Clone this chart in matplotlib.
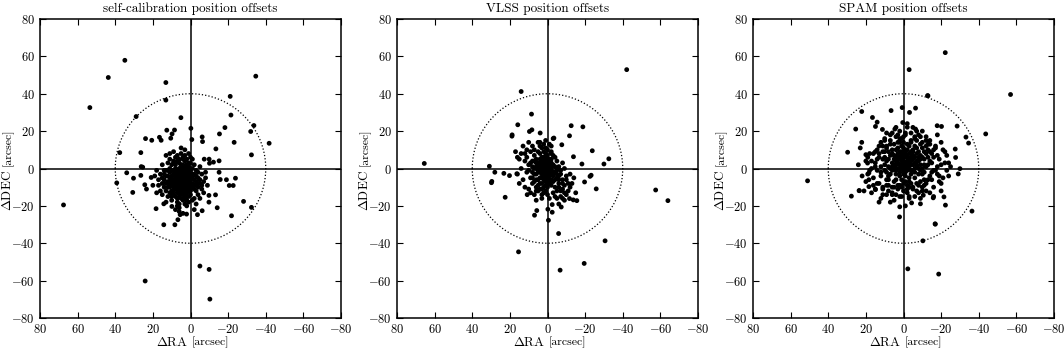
import numpy as np
import matplotlib
matplotlib.use('Agg')
import matplotlib.pyplot as plt
from matplotlib.transforms import offset_copy

plt.rcParams['font.family'] = 'serif'
plt.rcParams['font.serif'] = ['cmr10']
plt.rcParams['mathtext.fontset'] = 'cm'
plt.rcParams['axes.formatter.use_mathtext'] = True

# position offsets (RA, DEC) in arcsec

selfcal_offsets = [
    # outliers and sparse points
    (34.9, 57.9), (43.7, 48.7), (53.5, 32.6), (13.1, 46), (-34.7, 49.4), (-41.8, 13.5),
    (67.5, -19.5), (24.1, -60.2), (-5, -52.2), (-9.9, -54), (-10.3, -69.9),
    (13.1, 36.6), (-21.1, 38.6), (28.9, 27.8), (5.1, 27.2), (-21.5, 28.6), (-33.7, 23),
    (-32, 19.8), (-18.3, 21.9), (-15.4, 18.5), (-23.2, 14), (-32.4, 7.3), (-13.5, 10.5),
    (-6.2, 16.9), (-6.4, 14.4), (-0.2, 21.5), (-0.7, 15.5), (8.5, 20.6), (12.6, 20.5),
    (9.8, 18.5), (10.5, 16.2), (23.9, 16), (20.6, 15.1), (16.5, 16.7), (15.6, 15.1),
    (37.6, 8.5), (26.4, 8.5), (33.9, -2.3), (39.2, -7.7), (30.3, -5.2), (26.2, 1),
    (25.4, 0.7), (26.4, -3.7), (24.3, -8.7), (23.4, -11), (30.7, -12.8), (20.9, -4.8),
    (18.3, -21.5), (14.2, -18.9), (14.2, -30.1), (8.3, -30.1), (6.7, -27.4), (5.5, -24.7),
    (2.1, -24.4), (9.9, -20.3), (-3.7, -24.7), (-6.2, -22.6), (-9.8, -18), (-14.2, -21),
    (-13.3, -14.1), (-9.8, -14.4), (-15.2, -2), (-15.8, -5.9), (-19.1, -6), (-20.6, -9.1),
    (-22.7, -9.1), (-23.9, -5.2), (-21.8, -25.3), (-28.2, -17.6), (-32.4, -20.8),
    (-15.2, 4.1), (-12.2, 3.4), (-10.1, 2.8), (-7.3, 5), (-9.9, 5),
    # dense core
    (3, -3), (5, -2), (2, -5), (4, -6), (6, -4), (1, -2), (7, -1), (3, 0), (5, -8), (2, -9),
    (0, -4), (8, -5), (4, -1), (6, -7), (1, -6), (9, -3), (3, -10), (-1, -3), (5, 1), (7, -9),
    (2, 2), (10, -6), (-2, -6), (4, -12), (8, 0), (0, -8), (6, 3), (11, -2), (-3, -1), (3, -14),
    (9, -8), (1, 1), (12, -7), (-1, -10), (5, -11), (7, 4), (10, 2), (-4, -5), (2, -13), (13, -4),
    (6, -13), (-2, 2), (8, -11), (4, 5), (11, -10), (0, -12), (-5, -8), (14, -1), (3, 7), (9, -14),
    (1, -15), (-3, -12), (12, 3), (7, -16), (5, 8), (15, -8), (-6, -3), (10, -13), (2, -17), (-1, 5),
    (13, -12), (8, 6), (-4, -14), (16, -3), (4, -17), (11, 5), (-7, -7), (6, -19), (0, 3), (14, -10),
    (9, 9), (-2, -16), (17, -6), (3, 10), (12, -15), (-5, 1), (7, -20), (15, 2), (-8, -2), (1, 8),
    (10, -17), (5, 11), (-3, -19), (18, -1), (8, -22), (-6, -11), (13, 7), (2, -20), (16, -12), (-1, -17),
    (4, 2), (6, 0), (2, -1), (7, -3), (5, -5), (3, -7), (1, -7), (4, -9), (8, -7), (6, -10),
    (2, -11), (0, -1), (9, -1), (10, -9), (-1, 0), (12, -1), (11, -5), (3, 4), (-2, -9), (-3, -7),
    (14, -6), (9, 3), (-4, -10), (15, -14), (-5, -16), (1, -12), (7, 7), (0, 6), (-7, -13), (17, -9),
    (19, -4), (-8, -5), (11, 8), (6, -23), (4, -24), (-9, -9), (20, -9), (13, -18), (-2, -22), (18, -13),
    (4, -3), (2, -4), (5, -6), (3, -5), (6, -2), (1, -4), (7, -5), (4, -8), (2, -7), (5, -3),
    (3, -2), (6, -5), (8, -3), (1, -9), (4, -4), (7, -7), (0, -6), (9, -6), (2, 0), (5, -10),
    (3, -12), (8, -9), (6, -1), (-1, -5), (10, -4), (4, 0), (1, -11), (7, -11), (-2, -3), (9, -10),
    (5, 2), (2, -15), (11, -7), (-1, -8), (6, -15), (12, -4), (3, 1), (8, 2), (0, -10), (10, -12),
    (-3, -4), (4, -14), (13, -8), (1, 3), (7, -13), (-2, -11), (11, 0), (5, -16), (-4, -8), (9, 4),
    (3, -16), (12, -10), (6, 5), (0, -14), (14, -3), (-3, -9), (8, -15), (2, 5), (10, -15), (-5, -6),
    (4, 6), (13, -1), (1, -18), (7, -18), (-4, -2), (11, -13), (6, -21), (3, -19), (15, -5), (-6, -9),
    (5, -1), (6, -8), (3, -6), (7, -6), (4, -10), (2, -2), (8, -2), (5, -13), (9, -12), (1, -1),
    (10, -1), (6, -11), (3, -3), (0, -2), (11, -8), (2, -8), (8, -4), (4, -7), (7, -10), (5, -4),
]

vlss_offsets = [
    # outliers and sparse points
    (65.5, 2.7), (-42.1, 52.9), (15.4, -44.6), (-6.7, -54.4), (-19.5, -50.8), (-30.6, -38.7),
    (-57.5, -11.5), (-64, -17.2), (14, 41.2), (8.5, 29.1), (15.8, 23.4), (18.8, 18),
    (8.3, 20.7), (9.6, 19.8), (-3.4, 16.3), (-7.6, 12.7), (-11.7, 17.5), (-12.6, 22.9),
    (-18.8, 22.3), (-23.8, 9.5), (-32.6, 5.2), (-30, 2.4), (-18.3, 2.4), (-13.8, 6.3),
    (30.9, 1.2), (28, -2), (29.6, -6.9), (29.8, -7.6), (23.2, -2.6), (20.2, -3.8),
    (16.3, -2.8), (22.5, -15.4), (-23.2, -3.6), (-22.6, -4.2), (-19.7, -7.2), (-25.9, -10.9),
    (-15.6, -17.2), (-13.7, -16.8), (-11.7, -16.1), (-7.3, -20.6), (-2.5, -19.3), (-2.5, -23.4),
    (-0.2, -21.8), (5.7, -22.5), (6.9, -25), (-0.5, -27.7), (-5.9, -34.8), (10.8, -14),
    (3.9, 19), (18.9, 17.3),
    # dense core
    (1, 0), (2, 2), (0, -2), (3, -1), (-1, 1), (2, -3), (4, 1), (0, 3), (-2, -1), (1, -5),
    (3, 4), (5, -2), (-1, -4), (2, 6), (-3, 2), (4, -5), (0, -7), (6, 0), (1, 8), (-2, -6),
    (5, 3), (-4, -2), (3, -8), (7, -3), (-1, 5), (2, -10), (6, 5), (-5, -5), (4, 8), (8, 1),
    (-3, 7), (0, 10), (-6, -8), (9, -5), (1, -12), (5, -9), (-7, -3), (7, 7), (3, 11), (-4, -10),
    (10, 2), (-2, 9), (6, -12), (-8, -6), (2, 13), (11, -2), (-5, 4), (8, -8), (0, -14), (4, 12),
    (-9, -9), (12, 4), (-6, 1), (7, -14), (-3, -13), (9, 9), (1, 15), (-10, -4), (13, -6), (-7, -12),
    (5, 14), (-1, -16), (11, 6), (-8, 3), (3, -16), (14, 0), (-11, -8), (8, 12), (-4, -15), (10, -11),
    (12, 8), (15, 5), (-12, -10), (6, -17), (-2, 12), (16, -3), (-9, 0), (2, 1), (0, 1), (1, -2),
    (-1, -1), (3, 0), (2, -1), (0, -4), (4, -2), (-2, 3), (1, 3), (5, 0), (-3, -3), (3, 2),
    (2, 4), (-1, -8), (1, -9), (-5, -1), (6, -6), (4, -11), (-6, -10), (8, 4), (-9, -13), (7, 10),
    (0, 0), (1, 1), (2, -1), (-1, -2), (3, 1), (1, -3), (0, 2), (2, 3), (-2, 0), (3, -3),
    (1, 5), (4, -1), (-1, 3), (0, -5), (2, -6), (5, 1), (-3, -2), (4, 3), (1, -7), (-2, 5),
    (3, 6), (6, -3), (-1, -6), (0, 7), (5, -6), (-4, 1), (2, 9), (7, 0), (-3, -7), (4, -8),
    (1, 11), (-5, -3), (6, 3), (3, -11), (-2, 8), (8, -2), (-6, -6), (5, 9), (0, -10), (-7, -1),
    (9, 3), (2, -13), (-4, 6), (7, -7), (-1, 13), (10, -1), (-8, -8), (4, 14), (6, -10), (-5, -12),
    (1, 2), (2, 0), (0, -1), (-1, 0), (1, -1), (3, -1), (2, 2), (0, 4), (-1, -3), (3, 3),
    (4, 0), (2, -4), (-2, 2), (1, 6), (5, -1), (-3, -4), (3, -5), (0, -8), (6, 1), (-4, -6),
    (-2, -9), (4, 5), (7, 4), (-6, -4), (8, -5), (5, -12), (-8, -11), (-10, -6), (-7, -15), (-11, -12),
    (-13, -8), (-9, -17), (-5, -16), (3, -14), (11, 10), (14, 8), (13, 12), (16, 6), (10, 14), (17, 9),
    (-12, -3), (-14, -5), (-10, -14), (12, -10), (-15, -13), (-6, -19), (9, -13), (-8, -16), (15, -8), (-3, 16),
]

spam_offsets = [
    # outliers and sparse points
    (-22.2, 62), (-3, 52.9), (-56.9, 39.6), (-13, 38.9), (-43.7, 18.5), (51, -6.6),
    (-36.4, -22.8), (-2.3, -53.7), (-18.7, -56.5), (-10.3, -38.7), (-16.9, -29.8),
    (27.7, -14.8), (23.5, -11.9), (29.7, 8.7), (-12.8, 39), (22.2, 30.5), (6.6, 31),
    (0.7, 32.6), (-3.2, 30), (-6.4, 32.3), (16.5, 27.3), (14, 24.8), (14.9, 22.5),
    (25.4, 21.1), (11.2, 20.9), (4.6, 21.1), (0.4, 24.6), (-2, 22.1), (-6.4, 21.1),
    (-17.9, 22.9), (-20.2, 22.5), (-28.5, 22.7), (-33.2, 16.8), (-34.6, 13.6), (-27.5, 10.4),
    (-27.7, 5.9), (-30, -0.1), (-29.1, -2.9), (22.2, 14), (20, 7.4), (19.1, 2.9),
    (18.4, -2.4), (18.4, -6), (18.4, -9.7), (14.9, -11.3), (23.6, -11.8), (9, -14),
    (2, -20.5), (2.1, -25.9), (-4.3, -18.4), (-9, -18.9), (-10.5, -14.3), (-15.8, -15.7),
    (-21.5, -15.2), (-22.3, -19.6), (-16.8, -29.6),
    # dense core
    (0, 2), (-2, 4), (1, 0), (-3, 1), (2, 5), (-1, -2), (-4, 6), (3, 3), (0, 8), (-5, -1),
    (4, -1), (-2, 10), (-6, 3), (2, -4), (-3, -5), (5, 7), (-7, 8), (1, 12), (-8, 0), (6, 1),
    (-1, -7), (-9, 5), (4, 10), (-4, -8), (7, -3), (-10, -3), (0, 14), (3, -9), (-6, 12), (8, 5),
    (-11, 9), (2, 16), (-5, -11), (9, -6), (-12, 1), (5, 13), (-2, -13), (10, 2), (-8, -9), (6, -10),
    (-13, 6), (1, -15), (11, 9), (-7, 15), (3, 18), (-14, -4), (8, -12), (-9, 13), (12, -2), (-15, 3),
    (7, 15), (-3, -16), (13, 6), (-10, -12), (4, -14), (-16, 10), (9, 11), (-1, 18), (14, -8), (-12, 15),
    (-17, -1), (11, -14), (6, 19), (-6, -15), (15, 1), (-18, 7), (10, 16), (-11, -6), (16, -5), (2, 20),
    (-14, 13), (-4, 19), (13, 12), (-19, -7), (17, 4), (-8, 18), (5, -17), (-16, -10), (12, -16), (-20, 2),
    (0, 0), (-1, 3), (1, 4), (-2, 1), (2, 2), (-3, 5), (3, 0), (-4, 2), (1, 7), (-2, 7),
    (4, 4), (-5, 5), (0, -3), (-1, 10), (3, 7), (-6, -2), (5, 2), (-7, 4), (2, 9), (-3, 12),
    (6, 8), (-8, 6), (1, -10), (-5, 9), (7, 0), (-9, -1), (4, -6), (-10, 11), (8, 9), (-11, 2),
    (-2, -9), (3, 14), (-12, -8), (9, -9), (-13, 10), (6, -14), (-7, -12), (10, 6), (-15, -6), (11, -11),
    (-4, 15), (0, 17), (-17, 12), (14, 10), (-18, -3), (8, -6), (-6, 17), (15, -11), (-19, 5), (12, 14),
    (16, 8), (-21, -5), (7, -18), (-9, -16), (18, -1), (-14, -13), (17, -13), (-22, 9), (4, 22), (-10, 20),
    (-20, 14), (19, 6), (-23, -1), (13, -18), (-12, 17), (-16, -15), (20, -7), (-24, 3), (9, 19), (-1, -20),
    (-1, 1), (-2, 3), (0, 4), (-3, 0), (1, 2), (-4, 4), (2, 0), (-1, 6), (-5, 2), (0, -1),
    (3, 5), (-2, -1), (-6, 6), (1, 9), (-3, 8), (4, 2), (-7, 1), (2, -2), (-4, -3), (5, 5),
    (-8, 4), (0, 11), (-1, -4), (6, 3), (-5, 10), (3, 11), (-9, 7), (1, -6), (-6, -5), (7, 7),
    (-10, 0), (-2, 13), (4, -3), (-3, -7), (8, 1), (-11, 5), (2, 14), (-7, 11), (5, -7), (-8, -3),
    (9, 4), (-12, 8), (0, -8), (-4, 14), (6, 10), (-13, 2), (3, -11), (-9, -7), (10, -1), (-5, -10),
    (7, 13), (-14, 9), (1, 16), (-10, 14), (11, 5), (-2, -11), (8, -9), (-15, -2), (4, 17), (-11, -9),
    (12, -4), (-6, 16), (9, 12), (-16, 6), (-1, 19), (13, 8), (-13, -6), (6, -13), (-17, 11), (14, -1),
    (-8, -13), (10, 15), (-18, 1), (2, -15), (-14, 15), (15, 3), (-3, -15), (11, -10), (-19, -4), (7, 18),
    (-7, 2), (-6, 0), (-5, 7), (-4, 9), (-3, 3), (-2, 6), (-1, 8), (0, 6), (1, 5), (2, 7),
    (3, 8), (4, 6), (5, 0), (6, -1), (-8, 9), (-9, 2), (-10, 6), (-11, -2), (-12, 12), (-7, -8),
    (-4, -1), (-3, -10), (0, -12), (2, -9), (5, -10), (8, -4), (9, -2), (10, 9), (11, 12), (12, 1),
    (-15, 8), (-16, -1), (-14, 4), (-13, 13), (-12, -12), (-10, -10), (-9, 17), (-7, 20), (-5, 22), (-2, 24),
    (13, -8), (14, 5), (15, 9), (16, -9), (17, 0), (18, 8), (19, -3), (20, 4), (-20, -8), (-21, 10),
    (-22, 3), (-23, 7), (-24, -4), (-25, 1), (21, -12), (22, -4), (23, 11), (24, 2), (-18, 18), (-20, -12),
]

titles = ['self-calibration position offsets', 'VLSS position offsets', 'SPAM position offsets']
panels = [selfcal_offsets, vlss_offsets, spam_offsets]
ticks = [-80, -60, -40, -20, 0, 20, 40, 60, 80]
circle_radius = 40

fig = plt.figure(figsize=(10.64, 3.5), dpi=100)

# axes boxes in figure fractions (left, bottom, width, height)
lefts = [40 / 1064, 397 / 1064, 753 / 1064]

for i in range(3):

    ax = fig.add_axes([lefts[i], 32 / 350, 301 / 1064, 299 / 350])

    ra = [p[0] for p in panels[i]]
    dec = [p[1] for p in panels[i]]

    # zero lines and the 40 arcsec circle
    ax.axhline(0, color='black', lw=1.1, zorder=1)
    ax.axvline(0, color='black', lw=1.1, zorder=1)
    theta = np.linspace(0, 2 * np.pi, 400)
    ax.plot(circle_radius * np.cos(theta), circle_radius * np.sin(theta),
            color='black', ls=':', lw=0.9, zorder=1)

    ax.scatter(ra, dec, s=12, color='black', edgecolors='none', zorder=2)

    ax.set_xlim(80, -80)
    ax.set_ylim(-80, 80)
    ax.set_xticks(ticks)
    ax.set_yticks(ticks)
    ax.tick_params(direction='in', top=True, right=True, length=4, width=0.8, labelsize=9)
    for sp in ax.spines.values():
        sp.set_linewidth(1.1)

    ax.set_title(titles[i], fontsize=9.5, pad=5)

    # axis labels: the unit part is set a bit smaller, as in the original
    ax.text(0.5, -0.092, r'$\Delta$RA', fontsize=9.5, ha='right', va='baseline',
            rotation_mode='anchor',
            transform=offset_copy(ax.transAxes, fig, x=-2, y=0, units='points'))
    ax.text(0.5, -0.092, '[arcsec]', fontsize=8.5, ha='left', va='baseline',
            rotation_mode='anchor',
            transform=offset_copy(ax.transAxes, fig, x=1, y=0, units='points'))
    ax.text(-0.098, 0.5, r'$\Delta$DEC', fontsize=9.5, ha='right', va='baseline',
            rotation=90, rotation_mode='anchor',
            transform=offset_copy(ax.transAxes, fig, x=0, y=-1.5, units='points'))
    ax.text(-0.098, 0.5, '[arcsec]', fontsize=8.5, ha='left', va='baseline',
            rotation=90, rotation_mode='anchor',
            transform=offset_copy(ax.transAxes, fig, x=0, y=1.5, units='points'))

fig.savefig('out.png', dpi=100)
